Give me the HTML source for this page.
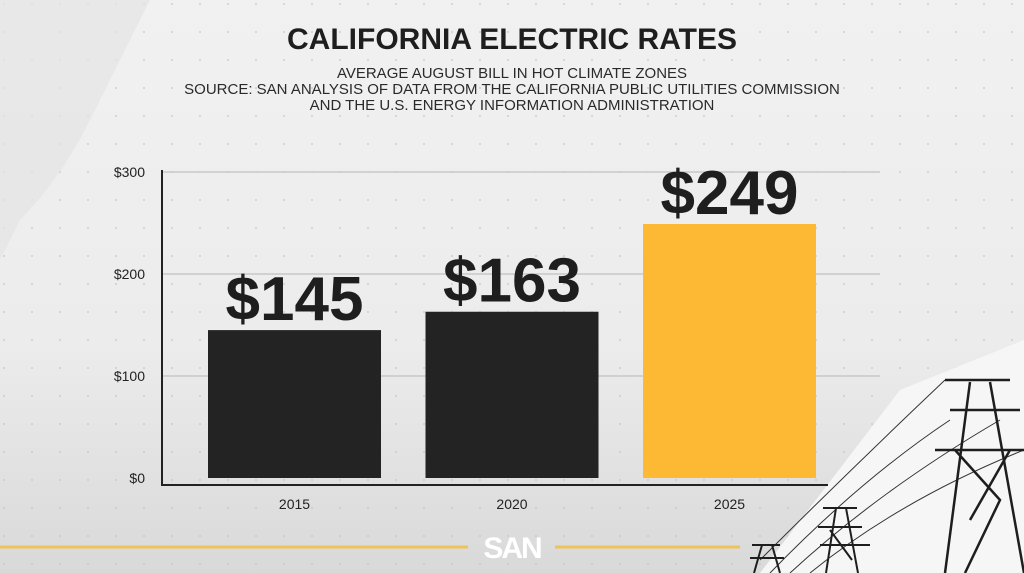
<!DOCTYPE html>
<html><head><meta charset="utf-8"><style>
body{margin:0;width:1024px;height:573px;overflow:hidden;font-family:"Liberation Sans",sans-serif;}
#wrap{position:relative;width:1024px;height:573px;background:linear-gradient(180deg,#f1f1f1 0%,#ececec 60%,#d9d9d9 100%);}
svg{position:absolute;left:0;top:0;}
</style></head><body>
<div id="wrap">
<svg id="chart" width="1024" height="573">
  <defs>
    <pattern id="dots" width="28" height="28" patternUnits="userSpaceOnUse"><circle cx="4" cy="4" r="0.9" fill="#c4c4c4"/></pattern>
  </defs>
  <rect width="1024" height="573" fill="url(#dots)"/>
  <path d="M0,0 L150,0 Q120,60 90,120 Q60,180 20,220 L0,260 Z" fill="#e4e4e4" opacity="0.7"/>
  <path d="M760,573 L900,390 L1024,340 L1024,573 Z" fill="#f6f6f6"/>
  <text x="512" y="49" text-anchor="middle" font-size="30" font-weight="bold" fill="#1e1e1e">CALIFORNIA ELECTRIC RATES</text>
  <text x="512" y="78" text-anchor="middle" font-size="15" fill="#2a2a2a">AVERAGE AUGUST BILL IN HOT CLIMATE ZONES</text>
  <text x="512" y="94" text-anchor="middle" font-size="15" fill="#2a2a2a">SOURCE: SAN ANALYSIS OF DATA FROM THE CALIFORNIA PUBLIC UTILITIES COMMISSION</text>
  <text x="512" y="110" text-anchor="middle" font-size="15" fill="#2a2a2a">AND THE U.S. ENERGY INFORMATION ADMINISTRATION</text>
  <g id="grid"></g>
  <g id="bars"></g>
  <line x1="162" y1="170" x2="162" y2="486" stroke="#222" stroke-width="2"/>
  <line x1="161" y1="485" x2="828" y2="485" stroke="#222" stroke-width="2"/>
  <line x1="0" y1="547" x2="468" y2="547" stroke="#efc25a" stroke-width="3"/>
  <line x1="555" y1="547" x2="740" y2="547" stroke="#efc25a" stroke-width="3"/>
  <text x="512" y="558" text-anchor="middle" font-size="30" font-weight="bold" fill="#fff" letter-spacing="-2">SAN</text>
  <g stroke="#333" fill="none" stroke-width="1">
    <path d="M760,560 Q850,470 945,380"/><path d="M770,573 Q860,480 950,420"/><path d="M790,573 Q880,490 1000,420"/><path d="M810,573 Q900,500 1024,450"/>
  </g>
  <g stroke="#1e1e1e" stroke-width="2.5" fill="none">
    <path d="M945,380 L1010,380 M950,410 L1020,410 M935,450 L1024,450 M970,382 L945,573 M990,382 L1024,573 M955,450 L1000,500 L965,573 M1010,450 L970,520"/>
  </g>
  <g stroke="#1e1e1e" stroke-width="2" fill="none">
    <path d="M823,508 L857,508 M818,527 L862,527 M820,545 L870,545 M836,508 L826,573 M846,508 L858,573 M830,530 L852,560"/>
  </g>
  <g stroke="#1e1e1e" stroke-width="2" fill="none">
    <path d="M752,545 L780,545 M750,558 L784,558 M762,545 L754,573 M772,545 L780,573"/>
  </g>
</svg>
</div>
<script>
const categories = ["2015", "2020", "2025"];
const values = [145, 163, 249];
const valueLabels = ["$145", "$163", "$249"];
const yTicks = [0, 100, 200, 300];
const yTickLabels = ["$0", "$100", "$200", "$300"];

const NS = "http://www.w3.org/2000/svg";
const y0 = 478, yTop = 172, vMax = 300;
function yScale(v){ return y0 - (v / vMax) * (y0 - yTop); }
const xStart = 208, bandStep = 217.5, barW = 173;
function xScale(i){ return xStart + i * bandStep; }

const grid = document.getElementById("grid");
yTicks.forEach((t, i) => {
  const y = yScale(t);
  if (t > 0) {
    const ln = document.createElementNS(NS, "line");
    ln.setAttribute("x1", 162); ln.setAttribute("x2", 880);
    ln.setAttribute("y1", y); ln.setAttribute("y2", y);
    ln.setAttribute("stroke", "#c8c8c8"); ln.setAttribute("stroke-width", "1.5");
    
    
    grid.appendChild(ln);
  }
  const tx = document.createElementNS(NS, "text");
  tx.setAttribute("x", 145); tx.setAttribute("y", y + 5);
  tx.setAttribute("text-anchor", "end"); tx.setAttribute("font-size", "14"); tx.setAttribute("fill", "#222");
  tx.textContent = yTickLabels[i];
  
  
  grid.appendChild(tx);
});

const bars = document.getElementById("bars");
categories.forEach((c, i) => {
  const x = xScale(i), y = yScale(values[i]);
  const r = document.createElementNS(NS, "rect");
  r.setAttribute("x", x); r.setAttribute("y", y);
  r.setAttribute("width", barW); r.setAttribute("height", y0 - y);
  r.setAttribute("fill", i === 2 ? "#fdb933" : "#232323");
  
  
  bars.appendChild(r);
  const vl = document.createElementNS(NS, "text");
  vl.setAttribute("x", x + barW / 2); vl.setAttribute("y", y - 10);
  vl.setAttribute("text-anchor", "middle"); vl.setAttribute("font-size", "62");
  vl.setAttribute("font-weight", "bold"); vl.setAttribute("fill", "#1e1e1e");
  vl.textContent = valueLabels[i];
  
  
  bars.appendChild(vl);
  const xl = document.createElementNS(NS, "text");
  xl.setAttribute("x", x + barW / 2); xl.setAttribute("y", 509);
  xl.setAttribute("text-anchor", "middle"); xl.setAttribute("font-size", "14"); xl.setAttribute("fill", "#222");
  xl.textContent = c;
  
  
  bars.appendChild(xl);
});
</script>
</body></html>
